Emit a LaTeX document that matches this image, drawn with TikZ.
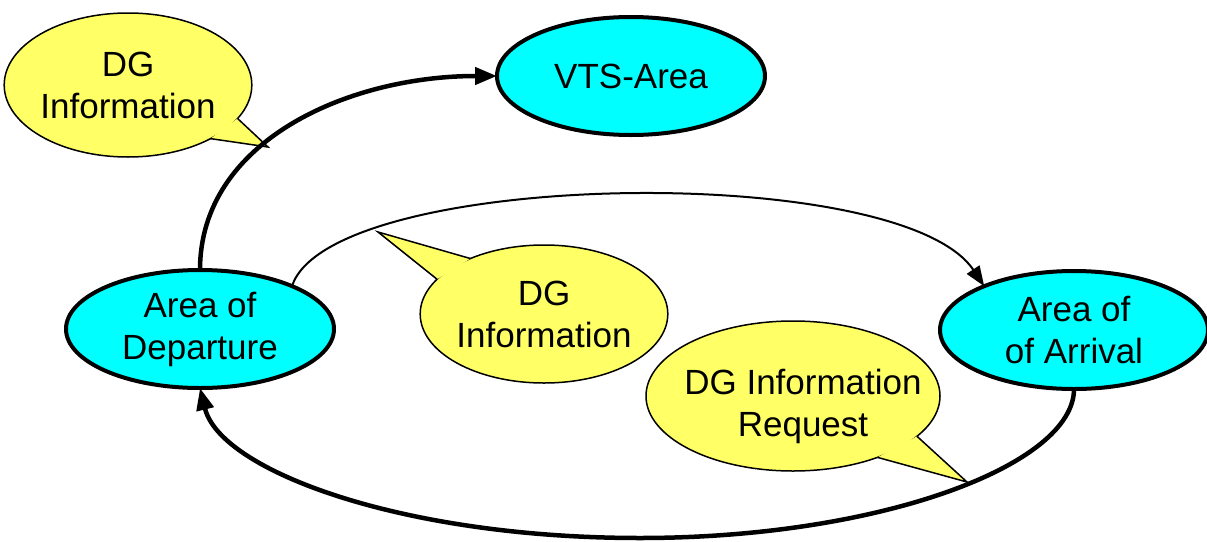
\documentclass[tikz,border=0pt]{standalone}
\usepackage{fontspec}
\setmainfont{Liberation Sans}
\usetikzlibrary{shapes.geometric,arrows.meta}
\definecolor{cyanfill}{RGB}{0,255,255}
\definecolor{bubblefill}{RGB}{255,255,102}
\begin{document}
\begin{tikzpicture}[x=1pt,y=-1pt,
  txt/.style={align=center,font=\fontsize{35}{42}\selectfont},
  area/.style={ellipse,draw,line width=4pt,fill=cyanfill,minimum width=268pt,
    minimum height=118pt,inner sep=0pt,outer sep=0pt,txt},
  bubble/.style={ellipse,draw,line width=1.5pt,fill=bubblefill,inner sep=0pt,
    outer sep=0pt,txt},
  tailline/.style={line width=1.5pt,line join=miter},
  flow/.style={line width=4.5pt,-{Triangle[length=22pt,width=17pt]}},
  thinflow/.style={line width=2pt,-{Triangle[length=20pt,width=15pt]}}]
\useasboundingbox (0,0) rectangle (1207,541);

% areas
\node[area] (vts) at (631,76) {VTS-Area};
\node[area] (dep) at (200,329) {Area of\\Departure};
\node[area] (arr) at (1074,330) {Area of\\of Arrival};

% bubble 1
\coordinate (t1) at (268,147);
\node[bubble,minimum width=236pt,minimum height=144pt] (b1) at (128,85) {DG\\Information};
\fill[bubblefill] (t1) -- (b1.-17) -- (b1.-33) -- cycle;
\draw[tailline] (b1.-17) -- (t1) -- (b1.-33);

% bubble 2
\coordinate (t2) at (378,232);
\node[bubble,minimum width=234pt,minimum height=138pt] (b2) at (544,314) {DG\\Information};
\fill[bubblefill] (t2) -- (b2.143) -- (b2.162) -- cycle;
\draw[tailline] (b2.143) -- (t2) -- (b2.162);

% bubble 3
\coordinate (t3) at (967,482);
\node[bubble,minimum width=294pt,minimum height=150pt] (b3) at (793,396) {};
\fill[bubblefill] (t3) -- (b3.-18) -- (b3.-36) -- cycle;
\draw[tailline] (b3.-18) -- (t3) -- (b3.-36);
\node[txt] (b3text) at (803,406) {DG Information\\Request};

% connectors
\draw[flow] (dep.north) .. controls (200,140) and (350,76) .. (vts.west);
\draw[thinflow] (dep.25) .. controls (330,170) and (900,160) .. (arr.154);
\draw[flow] (arr.south) .. controls (1074,465) and (880,538) .. (640,538)
  .. controls (400,538) and (220,470) .. (dep.south);
\end{tikzpicture}
\end{document}
